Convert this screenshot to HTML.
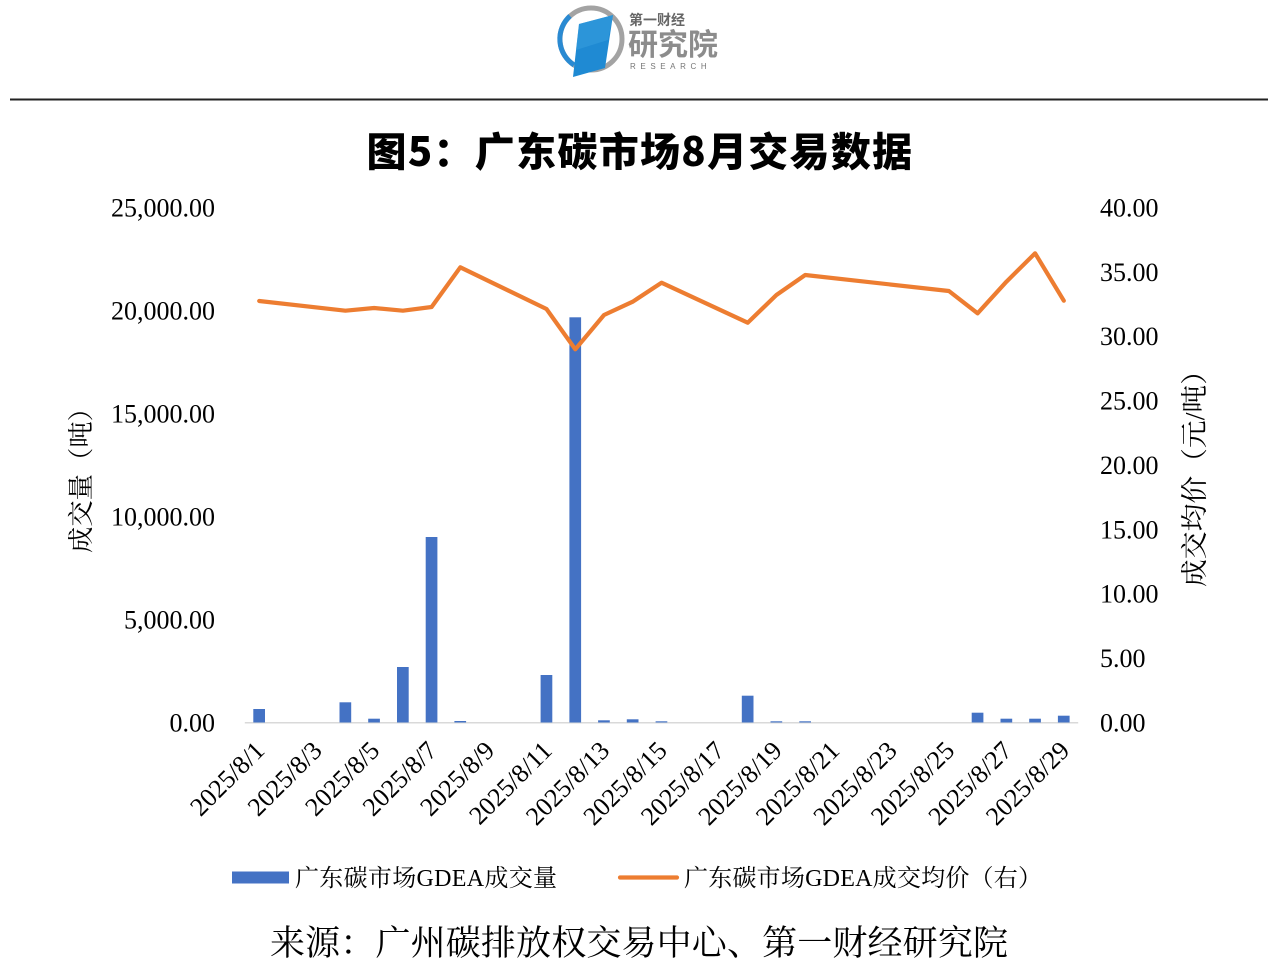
<!DOCTYPE html>
<html><head><meta charset="utf-8"><style>
html,body{margin:0;padding:0;background:#fff;}
svg{display:block;}
.serif{font-family:"Liberation Serif","Noto Serif CJK SC",serif;}
.cjk{font-family:"Liberation Serif","Noto Serif CJK SC",serif;}
</style></head><body>
<svg width="1280" height="964" viewBox="0 0 1280 964" xmlns="http://www.w3.org/2000/svg">
<rect width="1280" height="964" fill="#fff"/>
<!-- logo -->
<g>
<circle cx="591" cy="39" r="31" fill="none" stroke="#a3a3a3" stroke-width="5"/>
<path d="M 570 16 A 31 31 0 0 0 574 65" fill="none" stroke="#2a8ad2" stroke-width="5"/>
<polygon points="579,24 613,15 605,68 573,77" fill="#1f8ad3"/>
<polygon points="579,24 613,15 608,40 576,50" fill="#3aa0e0" opacity="0.5"/>
<text x="629" y="25" font-family="Noto Sans CJK SC, sans-serif" font-weight="700" font-size="14" fill="#666">第一财经</text>
<text x="628" y="55" font-family="Noto Sans CJK SC, sans-serif" font-weight="700" font-size="30" fill="#8c8c8c">研究院</text>
<text x="630" y="69" font-family="Liberation Sans, sans-serif" font-size="8" letter-spacing="4.6" fill="#777">RESEARCH</text>
</g>
<line x1="10" y1="99.5" x2="1268" y2="99.5" stroke="#222" stroke-width="2"/>
<!-- title -->
<text x="640" y="166" text-anchor="middle" font-family="Noto Sans CJK SC, sans-serif" font-weight="900" font-size="40" letter-spacing="1.3" fill="#000">图5：广东碳市场8月交易数据</text>

<!-- left axis labels -->
<g class="serif" font-size="26" fill="#000" text-anchor="end">
<text x="215" y="216.5">25,000.00</text>
<text x="215" y="319.5">20,000.00</text>
<text x="215" y="422.5">15,000.00</text>
<text x="215" y="525.5">10,000.00</text>
<text x="215" y="628.5">5,000.00</text>
<text x="215" y="731.5">0.00</text>
</g>
<!-- right axis labels -->
<g class="serif" font-size="26" fill="#000" text-anchor="start">
<text x="1100" y="216.5">40.00</text>
<text x="1100" y="280.9">35.00</text>
<text x="1100" y="345.2">30.00</text>
<text x="1100" y="409.6">25.00</text>
<text x="1100" y="474">20.00</text>
<text x="1100" y="538.4">15.00</text>
<text x="1100" y="602.7">10.00</text>
<text x="1100" y="667.1">5.00</text>
<text x="1100" y="731.5">0.00</text>
</g>
<!-- axis titles -->
<text class="cjk" transform="translate(80,474) rotate(-90)" x="0" y="10" text-anchor="middle" font-size="26" textLength="158" lengthAdjust="spacingAndGlyphs" fill="#000">成交量（吨）</text>
<text class="cjk" transform="translate(1194,472) rotate(-90)" x="0" y="10" text-anchor="middle" font-size="27" textLength="230" lengthAdjust="spacingAndGlyphs" fill="#000">成交均价（元/吨）</text>

<!-- axis line -->
<line x1="244.8" y1="722.8" x2="1078.2" y2="722.8" stroke="#d9d9d9" stroke-width="1.5"/>

<!-- bars -->
<g fill="#4472c4">
<rect x="253.3" y="709" width="11.7" height="13.5"/>
<rect x="339.5" y="702.3" width="11.7" height="20.2"/>
<rect x="368.2" y="718.7" width="11.7" height="3.8"/>
<rect x="397" y="667" width="11.7" height="55.5"/>
<rect x="425.7" y="537" width="11.7" height="185.5"/>
<rect x="454.4" y="721" width="11.7" height="1.5"/>
<rect x="540.6" y="675" width="11.7" height="47.5"/>
<rect x="569.4" y="317.3" width="11.7" height="405.2"/>
<rect x="598.1" y="720.3" width="11.7" height="2.2"/>
<rect x="626.8" y="719.3" width="11.7" height="3.2"/>
<rect x="655.6" y="721.3" width="11.7" height="1.2"/>
<rect x="741.8" y="695.7" width="11.7" height="26.8"/>
<rect x="770.5" y="721.3" width="11.7" height="1.2"/>
<rect x="799.3" y="721.3" width="11.7" height="1.2"/>
<rect x="971.7" y="712.7" width="11.7" height="9.8"/>
<rect x="1000.5" y="718.7" width="11.7" height="3.8"/>
<rect x="1029.2" y="718.7" width="11.7" height="3.8"/>
<rect x="1057.9" y="715.7" width="11.7" height="6.8"/>
</g>

<!-- line -->
<polyline fill="none" stroke="#ed7d31" stroke-width="4.2" stroke-linejoin="round" stroke-linecap="round"
points="259.2,301 345.4,310.7 374.1,308 402.9,310.7 431.6,307 460.3,267.3 546.5,309 575.3,349.3 604,315 632.7,301.7 661.5,282.7 747.7,322.7 776.4,295 805.2,275 948.9,291 977.6,313.3 1006.4,281.7 1035.1,253.3 1063.8,300.7"/>

<!-- x labels -->
<g class="serif" font-size="26" fill="#000" text-anchor="end">
<text transform="translate(266,752) rotate(-45)">2025/8/1</text>
<text transform="translate(323.5,752) rotate(-45)">2025/8/3</text>
<text transform="translate(381,752) rotate(-45)">2025/8/5</text>
<text transform="translate(438.5,752) rotate(-45)">2025/8/7</text>
<text transform="translate(496,752) rotate(-45)">2025/8/9</text>
<text transform="translate(553.5,752) rotate(-45)">2025/8/11</text>
<text transform="translate(611,752) rotate(-45)">2025/8/13</text>
<text transform="translate(668.4,752) rotate(-45)">2025/8/15</text>
<text transform="translate(725.9,752) rotate(-45)">2025/8/17</text>
<text transform="translate(783.4,752) rotate(-45)">2025/8/19</text>
<text transform="translate(840.9,752) rotate(-45)">2025/8/21</text>
<text transform="translate(898.4,752) rotate(-45)">2025/8/23</text>
<text transform="translate(955.9,752) rotate(-45)">2025/8/25</text>
<text transform="translate(1013.4,752) rotate(-45)">2025/8/27</text>
<text transform="translate(1070.9,752) rotate(-45)">2025/8/29</text>
</g>

<!-- legend -->
<rect x="232" y="871.5" width="57" height="12" fill="#4472c4"/>
<text class="cjk" x="295" y="886" font-size="24" textLength="262" lengthAdjust="spacing" fill="#000">广东碳市场GDEA成交量</text>
<line x1="620" y1="877.5" x2="677" y2="877.5" stroke="#ed7d31" stroke-width="4.2" stroke-linecap="round"/>
<text class="cjk" x="684" y="886" font-size="24" textLength="358" lengthAdjust="spacing" fill="#000">广东碳市场GDEA成交均价（右）</text>

<!-- source -->
<text class="cjk" x="270" y="955" font-size="35" textLength="738" lengthAdjust="spacing" fill="#000">来源：广州碳排放权交易中心、第一财经研究院</text>
</svg>
</body></html>
